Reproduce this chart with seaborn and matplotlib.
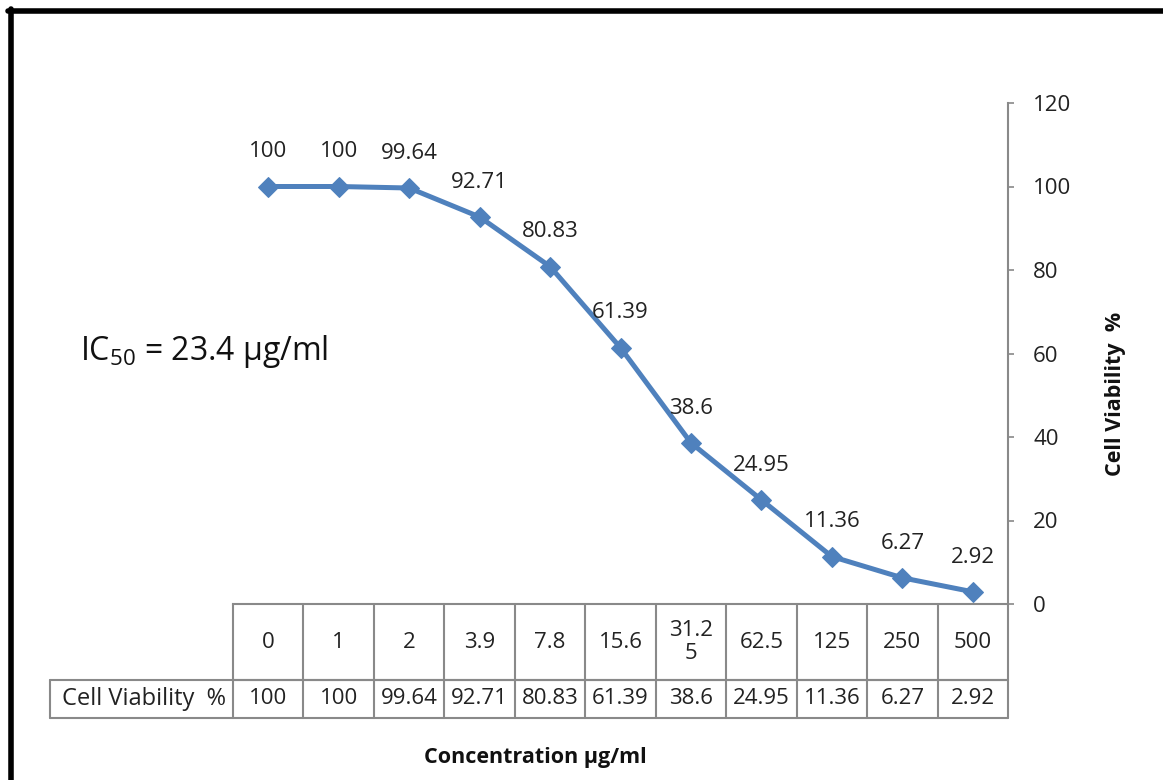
import numpy as np
import pandas as pd
import matplotlib.pyplot as plt
import seaborn as sns
from matplotlib.lines import Line2D
from matplotlib.transforms import blended_transform_factory

sns.set_style('white')
plt.rcParams['font.family'] = ['Open Sans', 'DejaVu Sans']
plt.rcParams['mathtext.fontset'] = 'custom'
plt.rcParams['mathtext.rm'] = 'Open Sans'

concentration = ['0', '1', '2', '3.9', '7.8', '15.6', '31.25', '62.5', '125', '250', '500']
viability = [100, 100, 99.64, 92.71, 80.83, 61.39, 38.6, 24.95, 11.36, 6.27, 2.92]
viability_text = ['100', '100', '99.64', '92.71', '80.83', '61.39', '38.6', '24.95', '11.36', '6.27', '2.92']

df = pd.DataFrame({'pos': np.arange(len(concentration)), 'viability': viability})

W, H = 1163, 780
fig = plt.figure(figsize=(W / 100, H / 100), dpi=100)
ax = fig.add_axes([233 / W, (H - 604) / H, 775 / W, 501 / H])

blue = '#4F81BD'
grey = '#898989'
sns.lineplot(data=df, x='pos', y='viability', ax=ax, color=blue, linewidth=3.6,
             marker='D', markersize=10, markeredgecolor=blue)

ax.set_xlim(-0.5, len(concentration) - 0.5)
ax.set_ylim(0, 120)
ax.set_yticks(range(0, 121, 20))
ax.yaxis.tick_right()
ax.tick_params(axis='y', direction='out', length=4, width=1.2, color=grey,
               labelsize=16, labelcolor='#222222', pad=14)
ax.set_xticks([])
ax.set_xlabel('')
ax.set_ylabel('')
for s in ['left', 'top']:
    ax.spines[s].set_visible(False)
for s in ['right', 'bottom']:
    ax.spines[s].set_color(grey)
    ax.spines[s].set_linewidth(1.5)

# data labels
for i, (v, t) in enumerate(zip(viability, viability_text)):
    ax.annotate(t, (i, v), xytext=(0, 25), textcoords='offset points',
                ha='center', va='center', fontsize=16, color='#222222')

# data table under the axis
tr = blended_transform_factory(ax.transData, ax.transAxes)
tra = ax.transAxes
row1 = -76 / 501
row2 = -114 / 501
label_left = (50 - 233) / 775
line_kw = dict(color=grey, linewidth=1.5, clip_on=False)
ax.plot([0, 1], [row1, row1], transform=tra, **line_kw)
ax.plot([label_left, 1], [row1, row1], transform=tra, **line_kw)
ax.plot([label_left, 1], [row2, row2], transform=tra, **line_kw)
ax.plot([label_left, label_left], [row1, row2], transform=tra, **line_kw)
for k in range(len(concentration) + 1):
    ax.plot([k - 0.5, k - 0.5], [0, row2], transform=tr, **line_kw)
for i, (c, t) in enumerate(zip(concentration, viability_text)):
    lab = c if len(c) <= 4 else c[:4] + '\n' + c[4:]
    ax.text(i, row1 / 2, lab, transform=tr, ha='center', va='center',
            fontsize=16, color='#222222', linespacing=1.1)
    ax.text(i, (row1 + row2) / 2, t, transform=tr, ha='center', va='center',
            fontsize=16, color='#222222')
ax.text(label_left + 12 / 775, (row1 + row2) / 2, 'Cell Viability  %', transform=tra,
        ha='left', va='center', fontsize=17, color='#222222')

# annotation and axis titles
ax.text((80 - 233) / 775, (604 - 352) / 501, r'IC$_\mathregular{50}$ = 23.4 µg/ml',
        transform=tra, ha='left', va='center', fontsize=23, color='#111111')
fig.text(535 / W, 1 - 758 / H, 'Concentration µg/ml', ha='center', va='center',
         fontsize=15.5, fontweight='bold', color='#111111')
fig.text(1116 / W, 1 - 394 / H, 'Cell Viability  %', ha='center', va='center',
         rotation=90, fontsize=15.5, fontweight='bold', color='#111111')

# black frame at top and left
fig.add_artist(Line2D([8 / W, 1], [1 - 11 / H, 1 - 11 / H], color='black', linewidth=4,
                      transform=fig.transFigure))
fig.add_artist(Line2D([10.5 / W, 10.5 / W], [0, 1 - 9 / H], color='black', linewidth=4,
                      transform=fig.transFigure))

fig.savefig('out.png', dpi=100, facecolor='white')
